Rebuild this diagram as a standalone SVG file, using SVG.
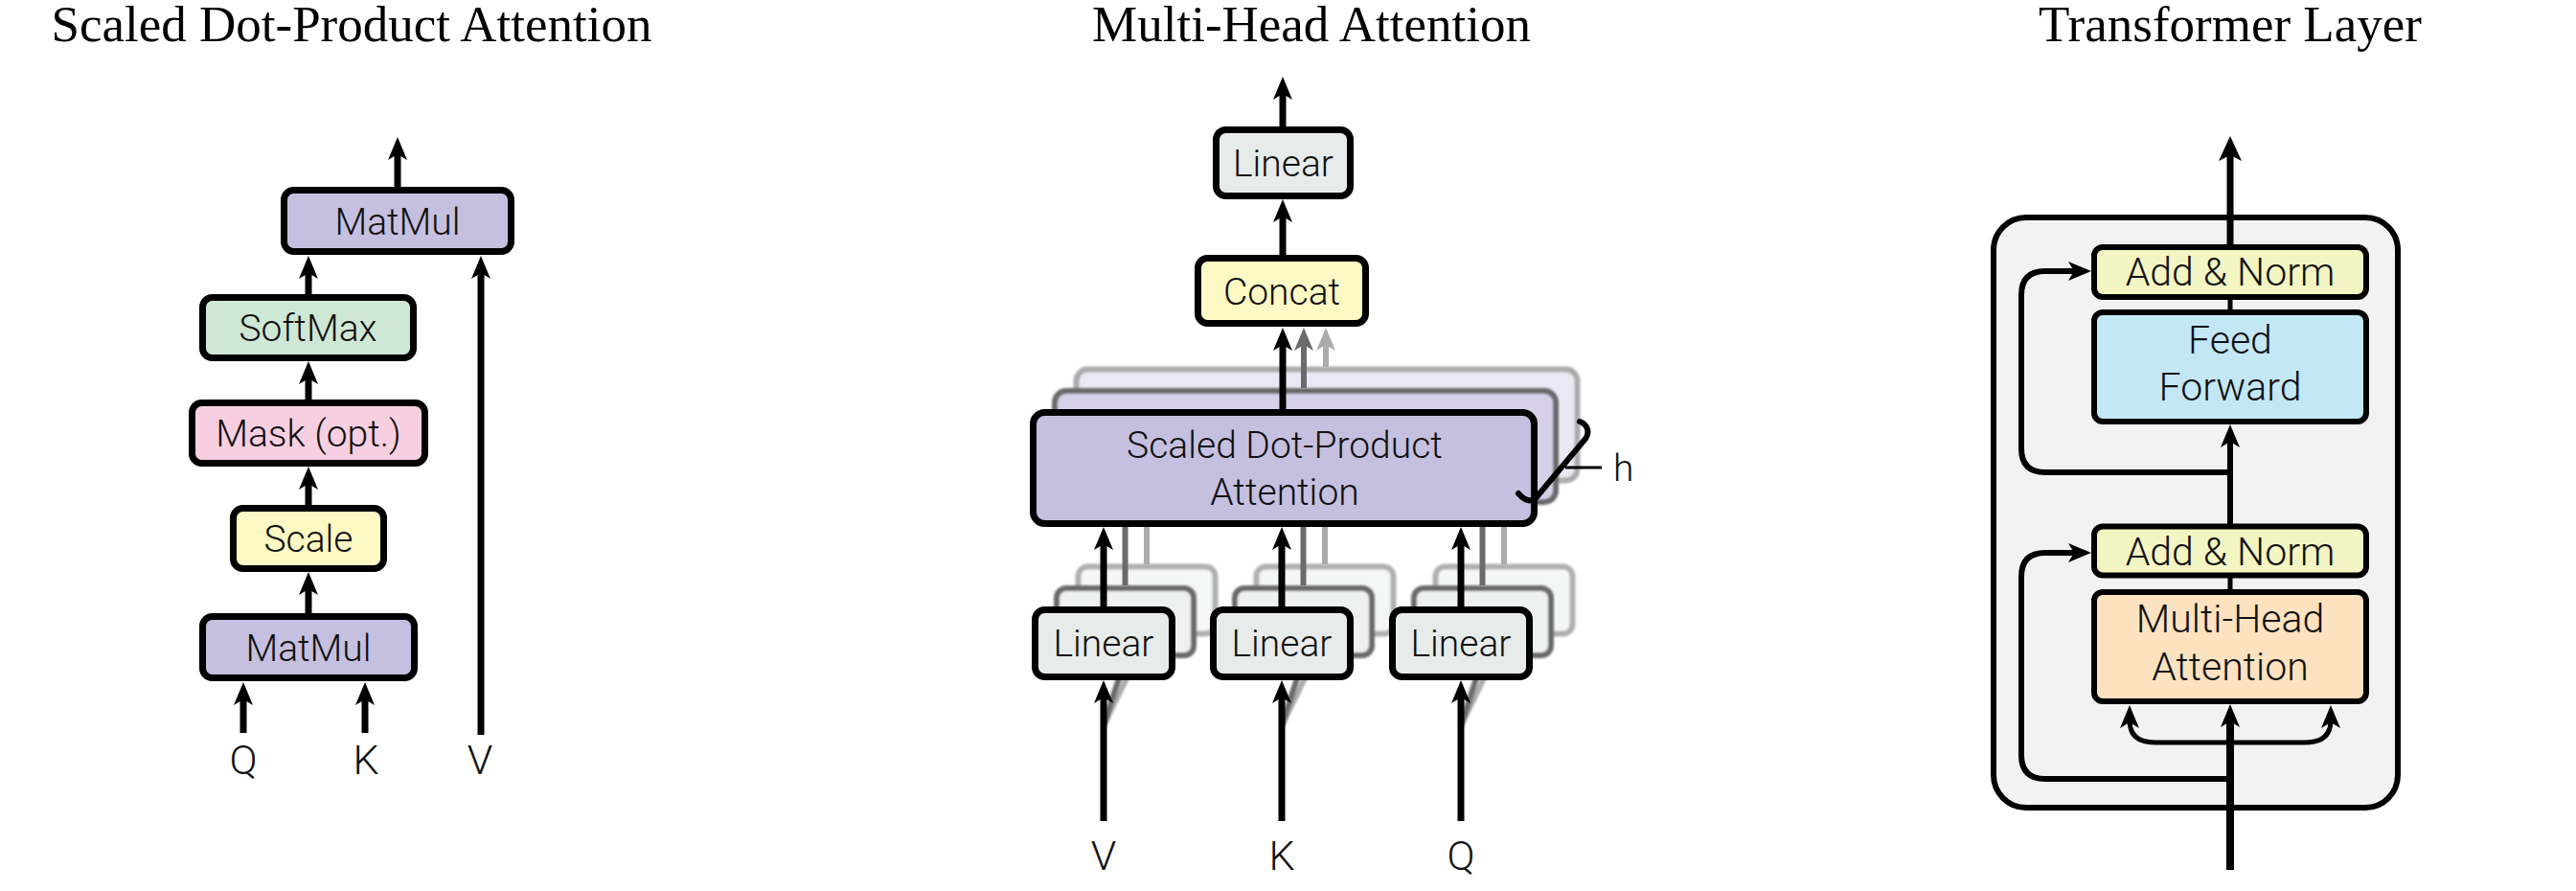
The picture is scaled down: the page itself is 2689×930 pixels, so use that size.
<svg xmlns="http://www.w3.org/2000/svg" width="2689" height="930" viewBox="0 0 2689 930">
<defs>
<style>
.title{font-family:"Liberation Serif","Times New Roman",serif;font-size:53px;text-anchor:middle;fill:#000}
.t{font-family:Roboto,"Liberation Sans",Arial,sans-serif;font-weight:300;font-size:39px;text-anchor:middle;fill:#111}
.tr{font-family:Roboto,"Liberation Sans",Arial,sans-serif;font-weight:300;font-size:41px;text-anchor:middle;fill:#111}
.lbl{font-family:Roboto,"Liberation Sans",Arial,sans-serif;font-weight:300;font-size:43px;text-anchor:middle;fill:#111}
.b{stroke:#000;stroke-width:7}
.br{stroke:#000;stroke-width:6}
.ln{stroke:#000;stroke-width:7;fill:none}
.ln6{stroke:#000;stroke-width:6;fill:none}
.ln5{stroke:#000;stroke-width:5;fill:none}
.g1{stroke:#6b6b6b;stroke-width:6;fill:none}
.g2{stroke:#ababab;stroke-width:6;fill:none}
.purple{fill:#c6c0e0}
.lin{fill:#e7ecea}
.yel{fill:#fdf9c4}
</style>
<marker id="a" viewBox="0 0 24 20" refX="8" refY="10" markerWidth="24" markerHeight="20" markerUnits="userSpaceOnUse" orient="auto"><path d="M0,0 L24,10 L0,20 L6,10 Z" fill="#000"/></marker>
<marker id="ab" viewBox="0 0 26 24" refX="8" refY="12" markerWidth="26" markerHeight="24" markerUnits="userSpaceOnUse" orient="auto"><path d="M0,0 L26,12 L0,24 L6,12 Z" fill="#000"/></marker>
<marker id="ag1" viewBox="0 0 24 20" refX="8" refY="10" markerWidth="24" markerHeight="20" markerUnits="userSpaceOnUse" orient="auto"><path d="M0,0 L24,10 L0,20 L6,10 Z" fill="#6b6b6b"/></marker>
<marker id="ag2" viewBox="0 0 24 20" refX="8" refY="10" markerWidth="24" markerHeight="20" markerUnits="userSpaceOnUse" orient="auto"><path d="M0,0 L24,10 L0,20 L6,10 Z" fill="#ababab"/></marker>
<filter id="soft" x="-10%" y="-10%" width="120%" height="120%"><feGaussianBlur stdDeviation="1.3"/></filter>
</defs>
<rect width="2689" height="930" fill="#fff"/>

<g id="titles">
<text class="title" x="367" y="43">Scaled Dot-Product Attention</text>
<text class="title" x="1369" y="43">Multi-Head Attention</text>
<text class="title" x="2328" y="43">Transformer Layer</text>
</g>

<!-- ===== Left: Scaled Dot-Product Attention ===== -->
<g id="sdpa-matmul-top"><rect class="b purple" x="296.5" y="198.5" width="237" height="64" rx="10"/><text class="t" x="415" y="245">MatMul</text></g>
<g id="sdpa-softmax"><rect class="b" fill="#cfe8d5" x="211.5" y="310.5" width="220" height="63" rx="10"/><text class="t" x="321.5" y="356">SoftMax</text></g>
<g id="sdpa-mask"><rect class="b" fill="#f8cfe0" x="200.5" y="420.5" width="243" height="63" rx="10"/><text class="t" x="322" y="466">Mask (opt.)</text></g>
<g id="sdpa-scale"><rect class="b yel" x="243.5" y="530.5" width="157" height="63" rx="10"/><text class="t" x="322" y="576">Scale</text></g>
<g id="sdpa-matmul-bottom"><rect class="b purple" x="211.5" y="643.5" width="221" height="64" rx="10"/><text class="t" x="322" y="690">MatMul</text></g>
<g id="sdpa-inputs">
<text class="lbl" x="254" y="808">Q</text>
<text class="lbl" x="382" y="808">K</text>
<text class="lbl" x="501" y="808">V</text>
</g>

<!-- ===== Middle: Multi-Head Attention ===== -->
<g id="mha-linear-out"><rect class="b lin" x="1269.5" y="135.5" width="140" height="69" rx="10"/><text class="t" x="1339.5" y="184">Linear</text></g>
<g id="mha-concat"><rect class="b yel" x="1250.5" y="269.5" width="175" height="68" rx="10"/><text class="t" x="1338" y="318">Concat</text></g>

<g id="mha-sdpa">
<rect x="1123.5" y="385.5" width="523" height="116" rx="12" fill="#eae8f4" stroke="#ababab" stroke-width="6" filter="url(#soft)"/>
<rect x="1101" y="408" width="523" height="116" rx="12" fill="#d6d1e9" stroke="#6b6b6b" stroke-width="6" filter="url(#soft)"/>
<rect class="b purple" x="1078.5" y="430.5" width="523" height="116" rx="12"/>
<text class="t" x="1341" y="478">Scaled Dot-Product</text>
<text class="t" x="1341" y="527">Attention</text>
</g>
<g id="mha-h">
<path d="M1585,515 C1592,523 1598,524 1603,520 L1655,458 C1660,451 1657,443 1649,440" fill="none" stroke="#000" stroke-width="6" stroke-linecap="round"/>
<line x1="1634" y1="488" x2="1672" y2="488" stroke="#000" stroke-width="3"/>
<text class="t" x="1684" y="502" text-anchor="start" style="text-anchor:start">h</text>
</g>

<g id="mha-linear-v">
<line class="g2" x1="1152" y1="757" x2="1197" y2="665" filter="url(#soft)"/>
<line class="g1" x1="1152" y1="757" x2="1174" y2="690" filter="url(#soft)"/>
<rect x="1125.5" y="591.5" width="143" height="70" rx="10" fill="#f5f7f6" stroke="#b0b0b0" stroke-width="6" filter="url(#soft)"/>
<rect x="1103" y="614" width="143" height="70" rx="10" fill="#eef1f0" stroke="#6b6b6b" stroke-width="6" filter="url(#soft)"/>
<rect class="b lin" x="1080.5" y="636.5" width="143" height="70" rx="10"/>
<text class="t" x="1152" y="685">Linear</text>
</g>
<g id="mha-linear-k">
<line class="g2" x1="1338" y1="757" x2="1383" y2="665" filter="url(#soft)"/>
<line class="g1" x1="1338" y1="757" x2="1360" y2="690" filter="url(#soft)"/>
<rect x="1311.5" y="591.5" width="143" height="70" rx="10" fill="#f5f7f6" stroke="#b0b0b0" stroke-width="6" filter="url(#soft)"/>
<rect x="1289" y="614" width="143" height="70" rx="10" fill="#eef1f0" stroke="#6b6b6b" stroke-width="6" filter="url(#soft)"/>
<rect class="b lin" x="1266.5" y="636.5" width="143" height="70" rx="10"/>
<text class="t" x="1338" y="685">Linear</text>
</g>
<g id="mha-linear-q">
<line class="g2" x1="1525" y1="757" x2="1570" y2="665" filter="url(#soft)"/>
<line class="g1" x1="1525" y1="757" x2="1547" y2="690" filter="url(#soft)"/>
<rect x="1498.5" y="591.5" width="143" height="70" rx="10" fill="#f5f7f6" stroke="#b0b0b0" stroke-width="6" filter="url(#soft)"/>
<rect x="1476" y="614" width="143" height="70" rx="10" fill="#eef1f0" stroke="#6b6b6b" stroke-width="6" filter="url(#soft)"/>
<rect class="b lin" x="1453.5" y="636.5" width="143" height="70" rx="10"/>
<text class="t" x="1525" y="685">Linear</text>
</g>
<g id="mha-inputs">
<text class="lbl" x="1152" y="908">V</text>
<text class="lbl" x="1338" y="908">K</text>
<text class="lbl" x="1525" y="908">Q</text>
</g>

<!-- ===== Right: Transformer Layer ===== -->
<g id="tl-container"><rect x="2081" y="227" width="422" height="616" rx="34" fill="#f2f2f2" stroke="#000" stroke-width="6"/></g>
<g id="tl-addnorm2"><rect class="br" fill="#f3f5c2" x="2186" y="258" width="284" height="52" rx="9"/><text class="tr" x="2328" y="298">Add &amp; Norm</text></g>
<g id="tl-ff"><rect class="br" fill="#c4e7f6" x="2186" y="326" width="284" height="114" rx="9"/><text class="tr" x="2328" y="369">Feed</text><text class="tr" x="2328" y="418">Forward</text></g>
<g id="tl-addnorm1"><rect class="br" fill="#f3f5c2" x="2186" y="549.5" width="284" height="51" rx="9"/><text class="tr" x="2328" y="590">Add &amp; Norm</text></g>
<g id="tl-mha"><rect class="br" fill="#fde2c0" x="2186" y="618" width="284" height="114" rx="9"/><text class="tr" x="2328" y="660">Multi-Head</text><text class="tr" x="2328" y="710">Attention</text></g>

<!-- ===== Connectors ===== -->
<g id="connectors">
<!-- left -->
<line class="ln" x1="415" y1="195" x2="415" y2="159" marker-end="url(#a)"/>
<line class="ln" x1="322" y1="307" x2="322" y2="283" marker-end="url(#a)"/>
<line class="ln" x1="322" y1="417" x2="322" y2="393" marker-end="url(#a)"/>
<line class="ln" x1="322" y1="527" x2="322" y2="503" marker-end="url(#a)"/>
<line class="ln" x1="322" y1="640" x2="322" y2="613" marker-end="url(#a)"/>
<line class="ln" x1="254" y1="765" x2="254" y2="728" marker-end="url(#a)"/>
<line class="ln" x1="381" y1="765" x2="381" y2="728" marker-end="url(#a)"/>
<line class="ln" x1="502" y1="767" x2="502" y2="283" marker-end="url(#a)"/>
<!-- middle -->
<line class="ln" x1="1339" y1="132" x2="1339" y2="96" marker-end="url(#a)"/>
<line class="ln" x1="1339" y1="266" x2="1339" y2="224" marker-end="url(#a)"/>
<line class="g2" x1="1384" y1="383" x2="1384" y2="358" marker-end="url(#ag2)"/>
<line class="g1" x1="1361" y1="405" x2="1361" y2="358" marker-end="url(#ag1)"/>
<line class="ln" x1="1339" y1="428" x2="1339" y2="358" marker-end="url(#a)"/>
<line class="g1" x1="1174.5" y1="611" x2="1174.5" y2="550"/>
<line class="g2" x1="1197" y1="589" x2="1197" y2="550"/>
<line class="ln" x1="1152" y1="633" x2="1152" y2="566" marker-end="url(#a)"/>
<line class="g1" x1="1360.5" y1="611" x2="1360.5" y2="550"/>
<line class="g2" x1="1383" y1="589" x2="1383" y2="550"/>
<line class="ln" x1="1338" y1="633" x2="1338" y2="566" marker-end="url(#a)"/>
<line class="g1" x1="1547.5" y1="611" x2="1547.5" y2="550"/>
<line class="g2" x1="1570" y1="589" x2="1570" y2="550"/>
<line class="ln" x1="1525" y1="633" x2="1525" y2="566" marker-end="url(#a)"/>
<line class="ln" x1="1152" y1="857" x2="1152" y2="726" marker-end="url(#a)"/>
<line class="ln" x1="1338" y1="857" x2="1338" y2="726" marker-end="url(#a)"/>
<line class="ln" x1="1525" y1="857" x2="1525" y2="726" marker-end="url(#a)"/>
<!-- right -->
<line class="ln" x1="2328" y1="255" x2="2328" y2="160" marker-end="url(#ab)"/>
<line class="ln5" x1="2328" y1="313" x2="2328" y2="323"/>
<line class="ln6" x1="2328" y1="547" x2="2328" y2="459" marker-end="url(#a)"/>
<path class="ln6" d="M2328,493 H2135 Q2110,493 2110,468 V308 Q2110,283 2135,283 H2167" marker-end="url(#a)"/>
<line class="ln5" x1="2328" y1="603" x2="2328" y2="615"/>
<path class="ln6" d="M2328,813 H2135 Q2110,813 2110,788 V602 Q2110,577 2135,577 H2167" marker-end="url(#a)"/>
<line x1="2328" y1="908" x2="2328" y2="751" stroke="#000" stroke-width="8" marker-end="url(#a)"/>
<path class="ln5" d="M2328,775 H2250 Q2223,775 2223,752" marker-end="url(#a)"/>
<path class="ln5" d="M2328,775 H2406 Q2433,775 2433,752" marker-end="url(#a)"/>
</g>
</svg>
